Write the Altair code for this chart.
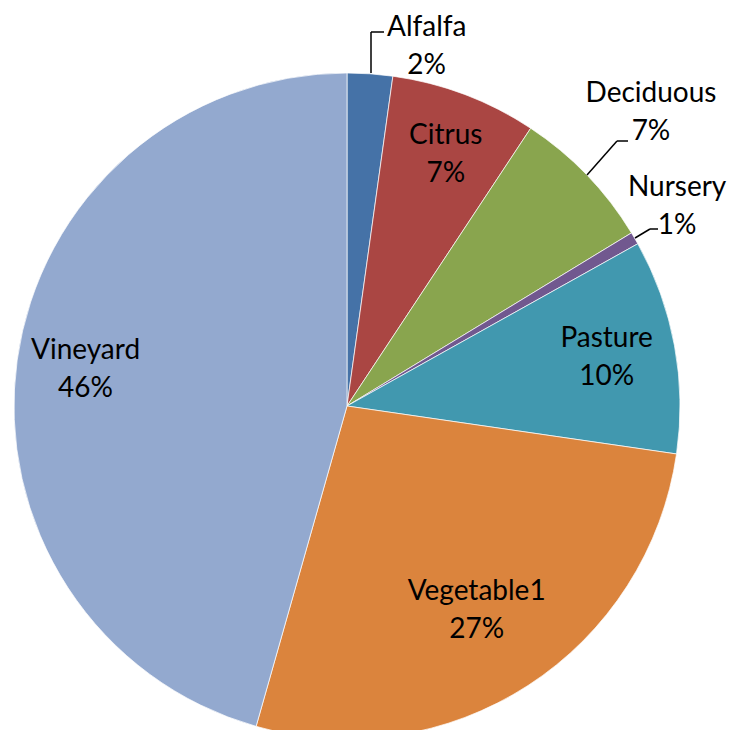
import altair as alt
import pandas as pd

categories = ["Alfalfa", "Citrus", "Deciduous", "Nursery", "Pasture", "Vegetable1", "Vineyard"]
shares = [2.2, 7.1, 7.0, 0.6, 10.4, 27.1, 45.6]
colors = ["#4572A7", "#AA4643", "#89A54E", "#71588F", "#4198AF", "#DB843D", "#93A9CF"]

df = pd.DataFrame({
    "cat": categories,
    "share": shares,
    "idx": list(range(len(categories))),
})
df["label"] = [f"{c}\n{round(s)}%" for c, s in zip(categories, shares)]

CX, CY = 339, 398
FONT = "Lato"
LH = 38

base = alt.Chart(df).encode(
    theta=alt.Theta("share:Q", stack=True),
    order=alt.Order("idx:Q"),
)

pie = base.mark_arc(radius=333, stroke="white", strokeWidth=0.7).encode(
    color=alt.Color("cat:N", scale=alt.Scale(domain=categories, range=colors), legend=None),
    x=alt.value(CX), y=alt.value(CY),
)

def txt(cats, radius, dx=0, dy=0):
    return base.mark_text(
        radius=radius, dx=dx, dy=dy - LH / 2, font=FONT, fontSize=28, lineBreak="\n",
        lineHeight=LH, align="center", baseline="middle", color="black",
    ).encode(
        text=alt.condition(alt.FieldOneOfPredicate(field="cat", oneOf=cats),
                           "label:N", alt.value("")),
        x=alt.value(CX), y=alt.value(CY),
    )

inside = txt(["Pasture", "Vineyard"], 264)
cit = txt(["Citrus"], 268, dx=4)
veg = txt(["Vegetable1"], 244, dx=-3)
alf = txt(["Alfalfa"], 372, dx=54, dy=12)
dec = txt(["Deciduous"], 422)
nur = txt(["Nursery"], 396, dx=-12)

def seg(cat, x1, y1, x2, y2):
    return alt.Chart(df).mark_rule(color="black", strokeWidth=1.5).encode(
        x=alt.value(x1), y=alt.value(y1), x2=alt.value(x2), y2=alt.value(y2)
    ).transform_filter(alt.datum.cat == cat)

leaders = [
    seg("Alfalfa", 363, 65, 363, 24), seg("Alfalfa", 363, 24, 376, 24),
    seg("Deciduous", 579, 167, 609, 133), seg("Deciduous", 609, 133, 620, 133),
    seg("Nursery", 627, 230, 642, 221), seg("Nursery", 642, 221, 650, 221),
]

chart = alt.layer(pie, inside, cit, veg, alf, dec, nur, *leaders).properties(
    width=720, height=722, padding=0, autosize=alt.AutoSizeParams(type="none")
).configure_view(stroke=None)

chart.save("out.html", embed_options={"renderer": "svg", "actions": False})
